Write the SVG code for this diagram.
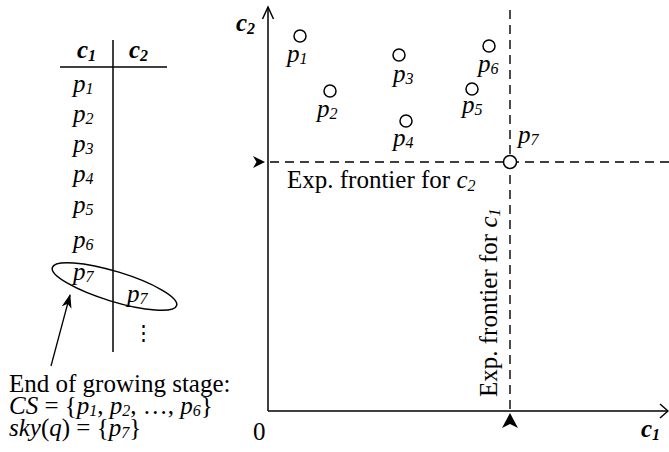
<svg xmlns="http://www.w3.org/2000/svg" width="669" height="452" viewBox="0 0 669 452">
<style>
text{font-family:"Liberation Serif","Times New Roman",serif;fill:#000}
.t{font-size:25px}
.i{font-style:italic}
.b{font-weight:bold;font-style:italic}
.s{font-size:16px;font-style:italic}
.ln{stroke:#000;stroke-width:1.5;fill:none}
.dash{stroke:#000;stroke-width:1.4;fill:none;stroke-dasharray:9 6}
.pt{fill:#fff;stroke:#000;stroke-width:1.5}
.head{fill:#000;stroke:none}
</style>
<defs>
<marker id="ah" viewBox="0 0 14 10" refX="13" refY="5" markerWidth="14" markerHeight="10" markerUnits="userSpaceOnUse" orient="auto">
<path d="M0,0 L14,5 L0,10 L4,5 Z" fill="#000"/>
</marker>
</defs>

<g id="table">
<line class="ln" x1="113" y1="40" x2="113" y2="352"/>
<line class="ln" x1="60" y1="67" x2="167" y2="67"/>
<text class="t b" x="77" y="58">c<tspan class="s" dy="3">1</tspan></text>
<text class="t b" x="129" y="58">c<tspan class="s" dy="3">2</tspan></text>
<text class="t i" x="73" y="92">p<tspan class="s" dy="2">1</tspan></text>
<text class="t i" x="73" y="122">p<tspan class="s" dy="2">2</tspan></text>
<text class="t i" x="73" y="152">p<tspan class="s" dy="2">3</tspan></text>
<text class="t i" x="73" y="182">p<tspan class="s" dy="2">4</tspan></text>
<text class="t i" x="73" y="213">p<tspan class="s" dy="2">5</tspan></text>
<text class="t i" x="73" y="248">p<tspan class="s" dy="2">6</tspan></text>
<text class="t i" x="73" y="280">p<tspan class="s" dy="2">7</tspan></text>
<text class="t i" x="127" y="302">p<tspan class="s" dy="2">7</tspan></text>
<text x="143" y="340" text-anchor="middle" font-family="DejaVu Serif" style="font-family:'DejaVu Serif',serif;font-size:21px">⋮</text>
</g>

<g id="ellipse">
<ellipse cx="114.5" cy="286.5" rx="65" ry="15" transform="rotate(17 114.5 286.5)" class="ln"/>
</g>

<g id="caption">
<text class="t" x="9" y="392">End of growing stage:</text>
<text class="t" x="9" y="414"><tspan class="i">CS</tspan> = {<tspan class="i">p</tspan><tspan class="s" dy="2">1</tspan><tspan dy="-2">, </tspan><tspan class="i">p</tspan><tspan class="s" dy="2">2</tspan><tspan dy="-2">, …, </tspan><tspan class="i">p</tspan><tspan class="s" dy="2">6</tspan><tspan dy="-2">}</tspan></text>
<text class="t" x="9" y="436"><tspan class="i">sky</tspan>(<tspan class="i">q</tspan>) = {<tspan class="i">p</tspan><tspan class="s" dy="2">7</tspan><tspan dy="-2">}</tspan></text>
</g>

<g id="axes">
<line class="ln" x1="268" y1="411" x2="268" y2="7"/>
<polyline class="ln" points="262.5,19 268,7 273.5,19"/>
<line class="ln" x1="268" y1="411" x2="667" y2="411"/>
<polyline class="ln" points="660,404 668,411 660,418"/>
<text class="t b" x="236" y="31">c<tspan class="s" dy="3">2</tspan></text>
<text class="t b" x="641" y="437">c<tspan class="s" dy="3">1</tspan></text>
<text class="t" x="253" y="440">0</text>
</g>

<g id="connectors">
<line class="dash" x1="270" y1="162" x2="669" y2="162"/>
<line class="dash" x1="510" y1="10" x2="510" y2="411"/>
<path class="head" d="M265,162 L253,156 L256.5,162 L253,168 Z"/>
<path class="head" d="M510,413 L502,428 L510,424 L518,428 Z"/>
<line class="ln" x1="51" y1="366" x2="70" y2="295" marker-end="url(#ah)" style="stroke-width:1.3"/>
</g>

<g id="frontier-labels">
<text class="t" x="287" y="188">Exp. frontier for <tspan class="i">c</tspan><tspan class="s" dy="3">2</tspan></text>
<text class="t" transform="translate(497 397) rotate(-90)">Exp. frontier for <tspan class="i">c</tspan><tspan class="s" dy="3">1</tspan></text>
</g>

<g id="p1"><circle class="pt" cx="300" cy="36" r="6"/><text class="t i" x="287" y="62">p<tspan class="s" dy="2">1</tspan></text></g>
<g id="p2"><circle class="pt" cx="330" cy="91" r="6"/><text class="t i" x="317" y="117">p<tspan class="s" dy="2">2</tspan></text></g>
<g id="p3"><circle class="pt" cx="399" cy="55" r="6"/><text class="t i" x="393" y="82">p<tspan class="s" dy="2">3</tspan></text></g>
<g id="p4"><circle class="pt" cx="406" cy="121" r="6"/><text class="t i" x="393" y="146">p<tspan class="s" dy="2">4</tspan></text></g>
<g id="p5"><circle class="pt" cx="472" cy="89" r="6"/><text class="t i" x="462" y="113">p<tspan class="s" dy="2">5</tspan></text></g>
<g id="p6"><circle class="pt" cx="489" cy="46" r="6"/><text class="t i" x="478" y="72">p<tspan class="s" dy="2">6</tspan></text></g>
<g id="p7"><circle class="pt" cx="510" cy="162" r="6.5"/><text class="t i" x="518" y="143">p<tspan class="s" dy="2">7</tspan></text></g>
</svg>
